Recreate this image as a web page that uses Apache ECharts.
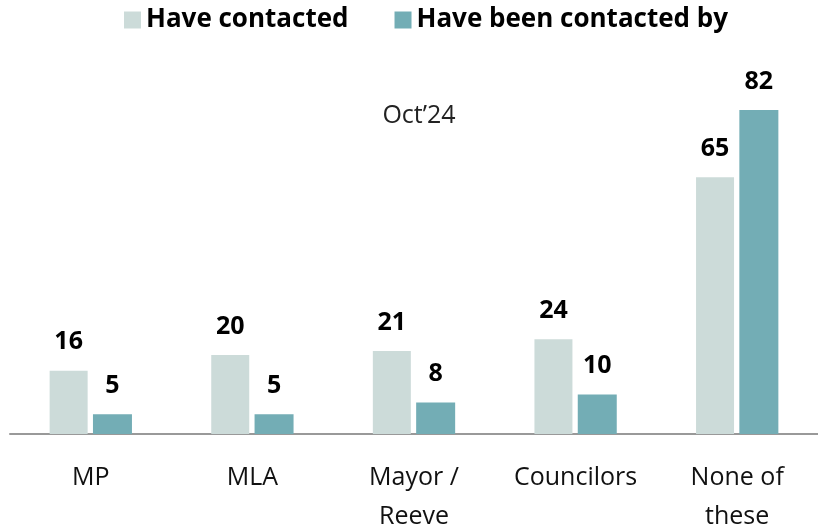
<!DOCTYPE html>
<html><head><meta charset="utf-8">
<script src="https://cdn.jsdelivr.net/npm/echarts@6/dist/echarts.min.js"></script>
<style>html,body{margin:0;padding:0;background:#fff}#c{width:818px;height:526px}</style>
</head><body><div id="c"></div>
<script>
var categories = ['MP', 'MLA', 'Mayor /\nReeve', 'Councilors', 'None of\nthese'];
var haveContacted = [16, 20, 21, 24, 65];
var beenContacted = [5, 5, 8, 10, 82];
var seriesNames = ['Have contacted', 'Have been contacted by'];
var subtitle = 'Oct\u201924';

var font = '"Open Sans", "Noto Sans", sans-serif';
var chart = echarts.init(document.getElementById('c'), null, {renderer: 'canvas'});
var labelStyle = {show: true, position: 'top', distance: 16, color: '#000', fontWeight: 'bold', fontSize: 25, fontFamily: font};
chart.setOption({
  animation: false,
  legend: {
    top: 2, left: 119, itemWidth: 17, itemHeight: 17, itemGap: 46,
    icon: 'rect',
    textStyle: {fontSize: 26, fontWeight: 'bold', color: '#000', fontFamily: font}
  },
  title: {
    text: subtitle, left: 414, top: 98, textAlign: 'center',
    textStyle: {fontSize: 25, fontWeight: 'normal', color: '#222', fontFamily: font}
  },
  grid: {left: 10, right: 0, top: 39, bottom: 92, outerBoundsMode: 'none', containLabel: false},
  xAxis: {
    type: 'category', data: categories,
    axisLine: {lineStyle: {color: '#999', width: 2}},
    axisTick: {show: false},
    axisLabel: {interval: 0, hideOverlap: false, margin: 24, fontSize: 25, color: '#111', fontFamily: font, lineHeight: 39}
  },
  yAxis: {type: 'value', min: 0, max: 100, show: false},
  series: [
    {name: seriesNames[0], type: 'bar', data: haveContacted, barWidth: 38, barGap: '14%',
     itemStyle: {color: '#CCDBD9'}, label: labelStyle},
    {name: seriesNames[1], type: 'bar', data: beenContacted, barWidth: 39,
     itemStyle: {color: '#73ADB5'}, label: labelStyle}
  ]
});
</script></body></html>
